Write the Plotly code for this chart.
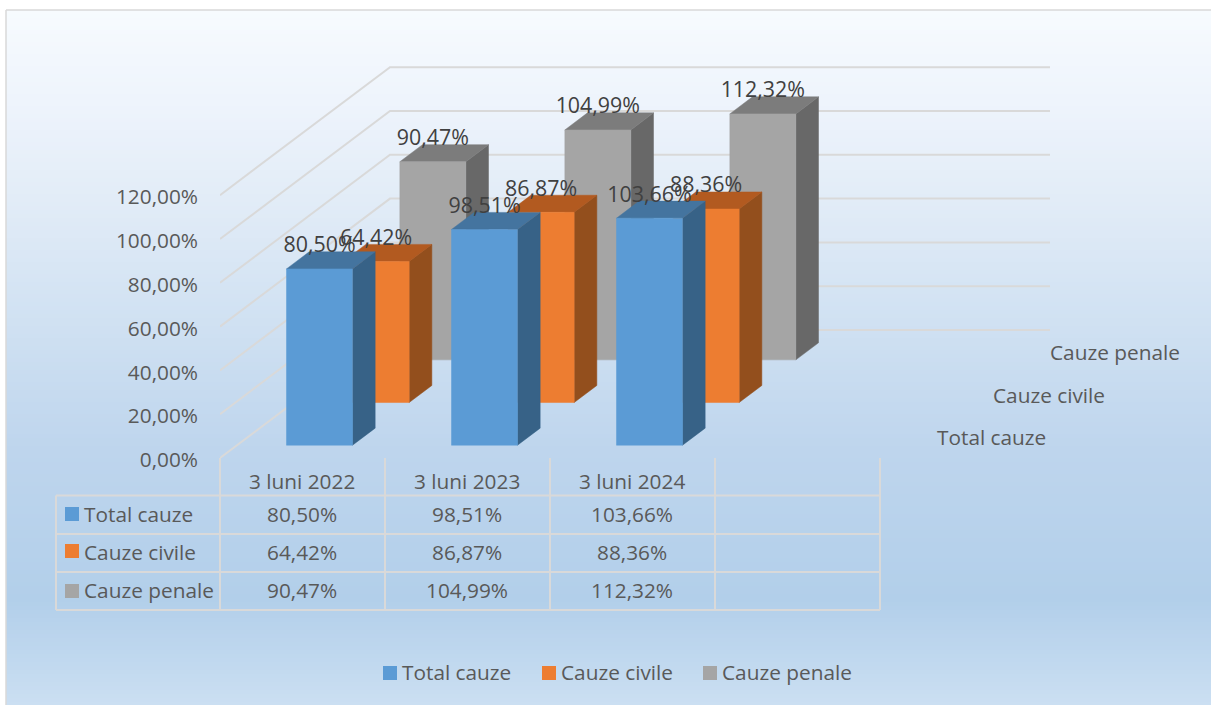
import plotly.graph_objects as go

categories = ["3 luni 2022", "3 luni 2023", "3 luni 2024"]
series_names = ["Total cauze", "Cauze civile", "Cauze penale"]
total_cauze = [80.50, 98.51, 103.66]
cauze_civile = [64.42, 86.87, 88.36]
cauze_penale = [90.47, 104.99, 112.32]
value_ticks = [0, 20, 40, 60, 80, 100, 120]

series_values = [total_cauze, cauze_civile, cauze_penale]
front_colors = ["#5B9BD5", "#ED7D31", "#A5A5A5"]
top_colors = ["#44749F", "#B25A20", "#7C7C7C"]
side_colors = ["#376287", "#934F1D", "#686868"]


def pct(v):
    return f"{v:.2f}%".replace(".", ",")


W, H = 1211, 705
L, R, T, B = 220, 1060, 10, 458
CAT_PX, VAL_PX = 165.0, 2.19
SLOT_X, SLOT_Y = 170 / 3, 128 / 3
BAR_W = 66 / 165
DEPTH_START, DEPTH_SPAN = 0.30, 0.40
N_SLOTS = 4
TEXT = "#595959"
LABEL = "#404040"
GRID = "#D9D9D9"
FONT = "Open Sans"
FS = 20.8
FS_LABEL = 21.4


def proj(cat, depth, val):
    return cat + depth * SLOT_X / CAT_PX, val + depth * SLOT_Y / VAL_PX


def px(x):
    return (x - L) / (R - L)


def py(y):
    return (B - y) / (B - T)


def bar_faces(i, j, v):
    c0 = j + (1 - BAR_W) / 2
    c1 = c0 + BAR_W
    d0 = i + DEPTH_START
    d1 = d0 + DEPTH_SPAN
    front = [proj(c0, d0, 0), proj(c1, d0, 0), proj(c1, d0, v), proj(c0, d0, v)]
    side = [proj(c1, d0, 0), proj(c1, d1, 0), proj(c1, d1, v), proj(c1, d0, v)]
    top = [proj(c0, d0, v), proj(c1, d0, v), proj(c1, d1, v), proj(c0, d1, v)]
    return front, side, top


def poly_trace(polys, color):
    xs, ys = [], []
    for p in polys:
        xs += [q[0] for q in p] + [p[0][0], None]
        ys += [q[1] for q in p] + [p[0][1], None]
    return go.Scatter(x=xs, y=ys, mode="lines", fill="toself", fillcolor=color,
                      line=dict(color=color, width=0.5), hoverinfo="skip", showlegend=False)


fig = go.Figure()

# wall and floor gridlines
for v in value_ticks:
    a = proj(0, 0, v)
    b = proj(0, 3, v)
    c = proj(N_SLOTS, 3, v)
    fig.add_trace(go.Scatter(x=[a[0], b[0], c[0]], y=[a[1], b[1], c[1]], mode="lines",
                             line=dict(color=GRID, width=2), hoverinfo="skip", showlegend=False))

# bars, from the back series to the front one
for i in [2, 1, 0]:
    faces = [bar_faces(i, j, v) for j, v in enumerate(series_values[i])]
    fig.add_trace(poly_trace([f[1] for f in faces], side_colors[i]))
    fig.add_trace(poly_trace([f[2] for f in faces], top_colors[i]))
    fig.add_trace(poly_trace([f[0] for f in faces], front_colors[i]))

# data labels
for i in [2, 1, 0]:
    pts = [proj(j + 0.5, i + DEPTH_START, v + 22 / VAL_PX) for j, v in enumerate(series_values[i])]
    fig.add_trace(go.Scatter(x=[p[0] for p in pts], y=[p[1] for p in pts], mode="text",
                             text=[pct(v) for v in series_values[i]], textposition="middle center",
                             textfont=dict(family=FONT, size=FS_LABEL, color=LABEL),
                             cliponaxis=False, hoverinfo="skip", showlegend=False))

shapes = []
# page gradient
stops = [(10, (247, 251, 254)), (100, (238, 244, 252)), (200, (226, 236, 247)),
         (300, (211, 227, 243)), (450, (190, 213, 237)), (600, (178, 207, 234)),
         (705, (203, 223, 242))]


def grad(y):
    for (y0, c0), (y1, c1) in zip(stops, stops[1:]):
        if y <= y1:
            t = (y - y0) / (y1 - y0)
            return "rgb(%d,%d,%d)" % tuple(round(a + (b - a) * t) for a, b in zip(c0, c1))
    return "rgb(203,223,242)"


for y in range(10, H, 4):
    shapes.append(dict(type="rect", xref="paper", yref="paper", layer="below",
                       x0=px(6), x1=px(W), y0=py(y), y1=py(y + 4),
                       fillcolor=grad(y + 2), line=dict(width=0)))
# frame
shapes.append(dict(type="line", xref="paper", yref="paper", layer="below",
                   x0=px(6), x1=px(W), y0=py(10), y1=py(10), line=dict(color="#D9D9D9", width=1.5)))
shapes.append(dict(type="line", xref="paper", yref="paper", layer="below",
                   x0=px(6), x1=px(6), y0=py(10), y1=py(H), line=dict(color="#D9D9D9", width=1.5)))


def tline(x0, y0, x1, y1):
    shapes.append(dict(type="line", xref="paper", yref="paper", x0=px(x0), x1=px(x1),
                       y0=py(y0), y1=py(y1), line=dict(color=GRID, width=2)))


row_lines = [495.5, 534, 572, 610]
for y in row_lines:
    tline(56, y, L + N_SLOTS * CAT_PX, y)
tline(56, row_lines[0], 56, row_lines[-1])
for k in range(N_SLOTS + 1):
    tline(L + k * CAT_PX, B, L + k * CAT_PX, row_lines[-1])


def key(x, yc, color):
    shapes.append(dict(type="rect", xref="paper", yref="paper", x0=px(x), x1=px(x + 14),
                       y0=py(yc - 7), y1=py(yc + 7), fillcolor=color, line=dict(width=0)))


ann = []


def text(x, y, s, anchor="center", color=TEXT, size=FS):
    ann.append(dict(xref="paper", yref="paper", x=px(x), y=py(y), text=s, showarrow=False,
                    xanchor=anchor, yanchor="middle", borderpad=0, borderwidth=0,
                    font=dict(family=FONT, size=size, color=color)))


row_y = [513.5, 551.5, 590]
key_y = [514, 551, 591]
for i, name in enumerate(series_names):
    key(65, key_y[i], front_colors[i])
    text(84, row_y[i], name, "left")
    for j, v in enumerate(series_values[i]):
        text(L + (j + 0.5) * CAT_PX - 1, row_y[i], pct(v))
for j, c in enumerate(categories):
    text(L + (j + 0.5) * CAT_PX - 1, 481, c)

# series axis labels
for (x, y), name in zip([(937, 437), (993, 395), (1050, 352)], series_names):
    text(x, y, name, "left")

# legend
for x, name, color in zip([383, 542, 703], series_names, front_colors):
    key(x, 673, color)
    text(x + 19, 671.5, name, "left")

fig.update_layout(
    width=W, height=H, margin=dict(l=L, r=W - R, t=T, b=H - B),
    paper_bgcolor="white", plot_bgcolor="rgba(0,0,0,0)", showlegend=False,
    shapes=shapes, annotations=ann,
    xaxis=dict(range=[0, (R - L) / CAT_PX], visible=False, fixedrange=True),
    yaxis=dict(range=[0, (B - T) / VAL_PX], tickmode="array", tickvals=value_ticks,
               ticktext=[pct(v) for v in value_ticks], showgrid=False, zeroline=False,
               showline=False, ticks="", ticklabelstandoff=21, ticklabelshift=2, fixedrange=True,
               tickfont=dict(family=FONT, size=FS, color=TEXT)),
    font=dict(family=FONT),
)

fig.write_html("out.html", config={"displayModeBar": False},
               post_script="document.body.style.margin='0';document.documentElement.style.overflow='hidden';")
